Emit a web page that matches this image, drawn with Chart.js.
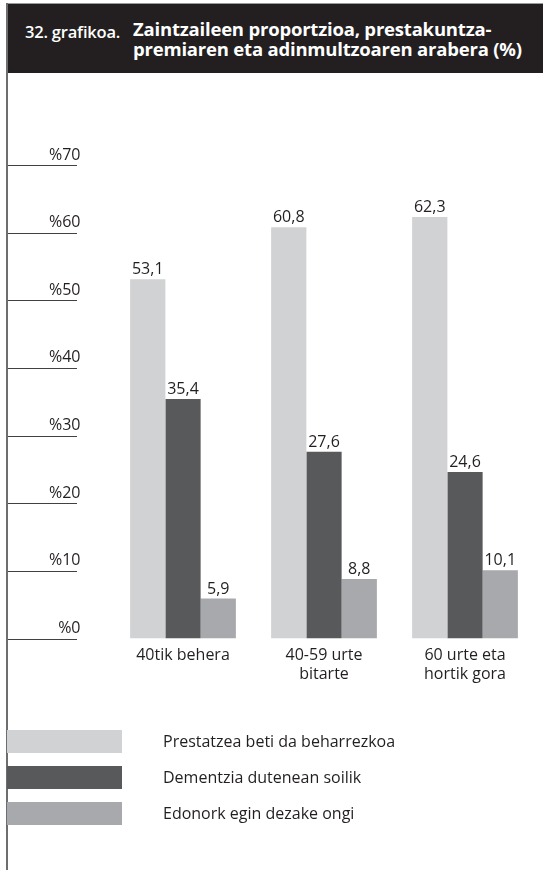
<!DOCTYPE html>
<html>
<head>
<meta charset="utf-8">
<script src="https://cdn.jsdelivr.net/npm/chart.js@4"></script>
<style>
  html, body { margin: 0; padding: 0; background: #fff; }
  #wrap { position: relative; width: 543px; height: 870px; overflow: hidden; background: #fff; }
  #c { position: absolute; left: 0; top: 0; }
  .frameLeft { position: absolute; left: 6px; top: 3px; width: 2px; height: 867px; background: #6d6e70; }
  .frameTop { position: absolute; left: 6px; top: 3px; width: 537px; height: 1px; background: #9a9a9a; }
  .header { position: absolute; left: 8px; top: 4px; width: 535px; height: 69px; background: #231f20; color: #fff; }
  .hnum { position: absolute; left: 17px; top: 18px; font: 600 16.5px/20px "Open Sans", sans-serif; letter-spacing: -0.2px; }
  .htitle { position: absolute; left: 125px; top: 15px; font: 700 18.5px/20px "Open Sans", sans-serif; letter-spacing: -0.2px; }
  .leg { position: absolute; left: 7px; width: 115px; height: 23px; }
  .legt { position: absolute; left: 163px; font: 400 16px "Open Sans", sans-serif; color: #231f20; line-height: 23px; }
</style>
</head>
<body>
<div id="wrap">
  <canvas id="c" width="543" height="870"></canvas>
  <div class="frameTop"></div>
  <div class="frameLeft"></div>
  <div class="header">
    <div class="hnum">32. grafikoa.</div>
    <div class="htitle">Zaintzaileen proportzioa, prestakuntza-<br>premiaren eta adinmultzoaren arabera (%)</div>
  </div>
  <div id="legend"></div>
</div>
<script>
// ---- data ----
const categories = [['40tik behera'], ['40-59 urte', 'bitarte'], ['60 urte eta', 'hortik gora']];
const seriesNames = ['Prestatzea beti da beharrezkoa', 'Dementzia dutenean soilik', 'Edonork egin dezake ongi'];
const prestatzea = [53.1, 60.8, 62.3];
const dementzia = [35.4, 27.6, 24.6];
const edonork = [5.9, 8.8, 10.1];
const yTicks = [0, 10, 20, 30, 40, 50, 60, 70];
const seriesColors = ['#d1d2d4', '#58595b', '#a7a9ac'];

const textColor = '#231f20';
const baseFont = { family: '"Open Sans", sans-serif', size: 16 };

// legend (HTML)
const legTops = [730, 766, 802];
const legendEl = document.getElementById('legend');
seriesNames.forEach((n, i) => {
  const sw = document.createElement('div');
  sw.className = 'leg';
  sw.style.top = legTops[i] + 'px';
  sw.style.background = seriesColors[i];
  legendEl.appendChild(sw);
  const t = document.createElement('div');
  t.className = 'legt';
  t.style.top = legTops[i] + 'px';
  t.textContent = n;
  legendEl.appendChild(t);
});

const sideLines = {
  id: 'sideLines',
  afterDraw(chart) {
    const ctx = chart.ctx;
    const y = chart.scales.y;
    ctx.save();
    ctx.strokeStyle = '#414042';
    ctx.lineWidth = 1;
    yTicks.forEach(v => {
      const py = Math.round(y.getPixelForValue(v)) + 0.5;
      ctx.beginPath();
      ctx.moveTo(7, py);
      ctx.lineTo(77, py);
      ctx.stroke();
    });
    ctx.restore();
  }
};

const valueLabels = {
  id: 'valueLabels',
  afterDatasetsDraw(chart) {
    const ctx = chart.ctx;
    ctx.save();
    ctx.font = '400 16px "Open Sans", sans-serif';
    ctx.fillStyle = textColor;
    ctx.textAlign = 'center';
    ctx.textBaseline = 'alphabetic';
    chart.data.datasets.forEach((ds, di) => {
      const meta = chart.getDatasetMeta(di);
      meta.data.forEach((el, i) => {
        const txt = ds.data[i].toFixed(1).replace('.', ',');
        ctx.fillText(txt, el.x, el.y - 5);
      });
    });
    ctx.restore();
  }
};

new Chart(document.getElementById('c'), {
  type: 'bar',
  data: {
    labels: categories,
    datasets: [
      { label: seriesNames[0], data: prestatzea, backgroundColor: seriesColors[0] },
      { label: seriesNames[1], data: dementzia, backgroundColor: seriesColors[1] },
      { label: seriesNames[2], data: edonork, backgroundColor: seriesColors[2] }
    ]
  },
  options: {
    responsive: false,
    animation: false,
    devicePixelRatio: 1,
    datasets: { bar: { barPercentage: 1, categoryPercentage: 0.75, borderWidth: 0 } },
    layout: { padding: { left: 7, right: 7.5, top: 165, bottom: 870 - 638.5 - 60 } },
    plugins: { legend: { display: false }, tooltip: { enabled: false }, title: { display: false } },
    scales: {
      x: {
        grid: { display: false, drawTicks: false },
        border: { display: false },
        ticks: { font: baseFont, color: textColor, padding: 7.5, maxRotation: 0, autoSkip: false },
        afterFit(s) { s.height = 60; }
      },
      y: {
        min: 0, max: 70,
        afterBuildTicks(s) { s.ticks = yTicks.map(v => ({ value: v })); },
        grid: { display: false, drawTicks: false },
        border: { display: false },
        ticks: { font: baseFont, color: textColor, padding: 32, labelOffset: -10, callback: v => '%' + v },
        afterFit(s) { s.width = 105.5; }
      }
    }
  },
  plugins: [sideLines, valueLabels]
});
</script>
</body>
</html>
